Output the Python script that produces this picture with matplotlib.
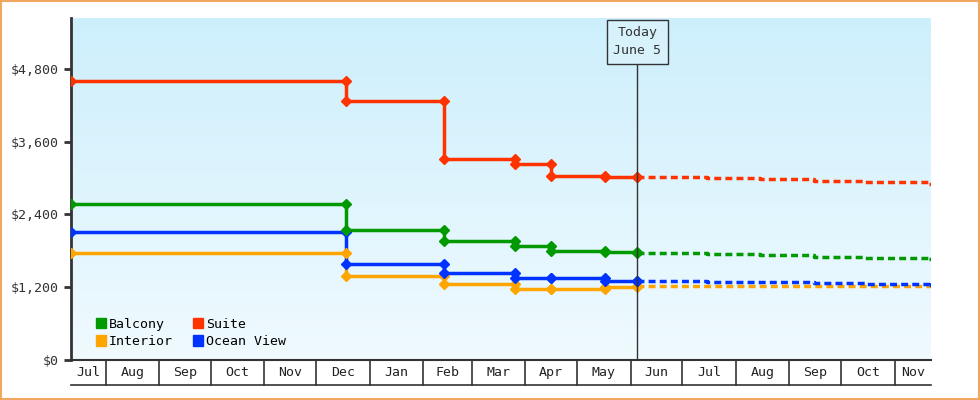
import matplotlib
matplotlib.use("Agg")
import matplotlib.pyplot as plt
import matplotlib.dates as mdates
import numpy as np
from datetime import date

plt.rcParams['font.family'] = ['DejaVu Sans Mono']

series_names = ["Balcony", "Suite", "Interior", "Ocean View"]
colors = {"Balcony": "#009900", "Suite": "#ff3300", "Interior": "#ffa500", "Ocean View": "#0033ff"}
change_dates = ["2024-07-12", "2024-12-18", "2025-02-13", "2025-03-26", "2025-04-16", "2025-05-17", "2025-06-05"]
past_values = {
    "Suite":      [4600, 4270, 3315, 3230, 3035, 3020, 3020],
    "Balcony":    [2570, 2145, 1960, 1880, 1800, 1775, 1765],
    "Ocean View": [2110, 1585, 1435, 1350, 1350, 1300, 1300],
    "Interior":   [1765, 1385, 1250, 1170, 1170, 1210, 1220],
}
future_dates = ["2025-06-05", "2025-07-15", "2025-08-15", "2025-09-15", "2025-10-15", "2025-11-21"]
future_values = {
    "Suite":      [3020, 3000, 2980, 2950, 2930, 2900],
    "Balcony":    [1765, 1745, 1725, 1700, 1690, 1665],
    "Ocean View": [1300, 1290, 1280, 1270, 1250, 1235],
    "Interior":   [1220, 1220, 1220, 1220, 1220, 1220],
}
y_ticks = [0, 1200, 2400, 3600, 4800]
today = "2025-06-05"

d2n = lambda s: mdates.datestr2num(s)
x0, x1 = d2n("2024-07-12"), d2n("2024-11-22") + 365

fig = plt.figure(figsize=(9.8, 4.0), dpi=100)
fig.patch.set_facecolor("white")
fig.patches.append(plt.Rectangle((0.001, 0.002), 0.998, 0.996, transform=fig.transFigure,
                                 fill=False, edgecolor="#f0a860", lw=1.5))
ax = fig.add_axes([71/980, 40/400, 860/980, 342/400])
ax.set_xlim(x0, x1)
ax.set_ylim(0, 5640)
grad = np.linspace(0, 1, 256).reshape(-1, 1)
from matplotlib.colors import LinearSegmentedColormap
cmap = LinearSegmentedColormap.from_list("bg", ["#f0faff", "#cdeffc"])
ax.imshow(grad, extent=[x0, x1, 0, 5640], origin="lower", aspect="auto", cmap=cmap, zorder=0)

for name in ["Interior", "Ocean View", "Balcony", "Suite"]:
    c = colors[name]
    xs = [d2n(d) for d in change_dates]
    vs = past_values[name]
    ax.plot(xs, vs, drawstyle="steps-post", color=c, lw=2.5, zorder=3)
    mx = [xs[0]] + [x for x in xs[1:] for _ in (0, 1)]
    my = [vs[0]] + [v for i in range(1, len(vs)) for v in (vs[i-1], vs[i])]
    ax.plot(mx, my, ls="none", marker="D", ms=5.5, color=c, zorder=4)
    fx = [d2n(d) for d in future_dates]
    ax.plot(fx, future_values[name], drawstyle="steps-post", color=c, lw=2.5, ls=(0, (2, 1.2)), zorder=3)
    ax.plot([fx[-1], x1], [future_values[name][-1]] * 2, color=c, lw=2.5, ls=(0, (2, 1.2)), zorder=3)

tx = d2n(today)
ax.plot([tx, tx], [0, 5200], color="#333333", lw=1, zorder=5)
ax.text(tx, 5500, "Today\nJune 5", ha="center", va="top", fontsize=9.5, color="#333333",
        linespacing=1.5, zorder=6,
        bbox=dict(boxstyle="square,pad=0.5", fc="#d8f2fc", ec="#333333", lw=1))

for s in ["top", "right"]:
    ax.spines[s].set_visible(False)
ax.spines["left"].set_linewidth(2)
ax.spines["left"].set_color("#333333")
ax.spines["bottom"].set_linewidth(1.5)
ax.spines["bottom"].set_color("#333333")
ax.set_yticks(y_ticks)
ax.set_yticklabels([f"${v:,}" for v in y_ticks], fontsize=9.5, color="#333333")
ax.tick_params(axis="y", length=5, width=2, color="#333333")

ax.set_xticks([])
starts = []
y, m = 2024, 8
while True:
    d = d2n(f"{y}-{m:02d}-01")
    if d > x1: break
    starts.append(d)
    m += 1
    if m > 12: m, y = 1, y + 1
from matplotlib.transforms import blended_transform_factory
tr = blended_transform_factory(ax.transData, ax.transAxes)
h = -25/342
for s in starts:
    ax.plot([s, s], [0, h], transform=tr, color="#333333", lw=1.2, clip_on=False)
ax.plot([x0, x1], [h, h], transform=tr, color="#333333", lw=1.2, clip_on=False)
bounds = [x0] + starts + [x1]
for a, b in zip(bounds[:-1], bounds[1:]):
    lbl = mdates.num2date((a + b) / 2).strftime("%b")
    ax.text((a + b) / 2, h / 2, lbl, transform=tr, ha="center", va="center", fontsize=9.5, color="#222222")

handles = [plt.Rectangle((0, 0), 1, 1, color=colors[n]) for n in ["Balcony", "Interior", "Suite", "Ocean View"]]
ax.legend(handles, ["Balcony", "Interior", "Suite", "Ocean View"], ncol=2, loc="lower left",
          bbox_to_anchor=(0.015, 0.0), frameon=False, fontsize=9.5, handlelength=0.8, handleheight=0.8,
          handletextpad=0.2, columnspacing=1.5, labelspacing=0.35)

fig.savefig("out.png", dpi=100)
